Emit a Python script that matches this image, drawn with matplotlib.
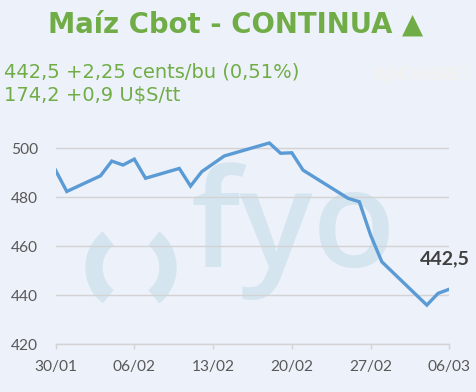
import numpy as np
import matplotlib
matplotlib.use("Agg")
import matplotlib.pyplot as plt
import matplotlib.dates as mdates
from matplotlib.patches import Arc

# data
fechas = ["2023-01-30", "2023-01-31", "2023-02-03", "2023-02-04", "2023-02-05",
          "2023-02-06", "2023-02-07", "2023-02-10", "2023-02-11", "2023-02-12",
          "2023-02-14", "2023-02-18", "2023-02-19", "2023-02-20", "2023-02-21",
          "2023-02-25", "2023-02-26", "2023-02-27", "2023-02-28", "2023-03-04",
          "2023-03-05", "2023-03-06"]
precios = [491.1, 482.4, 488.8, 494.8, 493.2, 495.6, 487.8, 491.8, 484.6, 490.5,
           496.9, 502.2, 498.0, 498.2, 491.1, 479.6, 478.2, 464.6, 453.7, 436.0,
           440.8, 442.5]
ticks_x = ["2023-01-30", "2023-02-06", "2023-02-13", "2023-02-20", "2023-02-27", "2023-03-06"]
ticks_y = [420, 440, 460, 480, 500]

titulo = "Maíz Cbot - CONTINUA ▲"
linea1 = "442,5 +2,25 cents/bu (0,51%)"
linea2 = "174,2 +0,9 U$S/tt"
etiqueta = "442,5"

bg_color = "#EDF1F9"
verde = "#70AD47"
azul = "#5B9BD5"
marca = "#D5E5F0"

fechas = np.array(fechas, dtype="datetime64[D]")
ticks_x = np.array(ticks_x, dtype="datetime64[D]")

fig = plt.figure(figsize=(4.77, 3.92), dpi=100, facecolor=bg_color)

# background layer in pixel coords: texts and watermark
bg = fig.add_axes([0, 0, 1, 1], zorder=0)
bg.set_xlim(0, 477)
bg.set_ylim(392, 0)
bg.axis("off")

bg.text(235.5, 33, titulo, ha="center", va="baseline", color=verde,
        fontsize=19.8, fontweight="bold", family="DejaVu Sans")
bg.text(4, 77, linea1, ha="left", va="baseline", color=verde,
        fontsize=14, family="DejaVu Sans")
bg.text(4, 101, linea2, ha="left", va="baseline", color=verde,
        fontsize=14, family="DejaVu Sans")
bg.text(470, 80, "#¿NOMBRE?", ha="right", va="baseline", color="#F3F1EC",
        fontsize=12, family="Lato")

# watermark logo
bg.text(191, 267, "fyo", ha="left", va="baseline", color=marca,
        fontsize=98, fontweight="semibold", family="Open Sans")
bg.add_patch(Arc((131, 267.5), 74, 74, theta1=128, theta2=232,
                 color=marca, lw=12.5))
bg.add_patch(Arc((131, 267.5), 74, 74, theta1=-52, theta2=52,
                 color=marca, lw=12.5))

ax = fig.add_axes([0.1164, 0.1217, 0.942 - 0.1164, 0.684 - 0.1217], zorder=1)
ax.set_facecolor("none")

ax.plot(fechas.astype("O"), precios, color=azul, lw=2.4, solid_joinstyle="miter", zorder=3)

ax.set_xlim(ticks_x[0].astype("O"), ticks_x[-1].astype("O"))
ax.set_ylim(420, 510)
ax.set_xticks(ticks_x.astype("O"))
ax.xaxis.set_major_formatter(mdates.DateFormatter("%d/%m"))
ax.set_yticks(ticks_y)

ax.grid(axis="y", color="#D3D3D3", lw=1)
ax.set_axisbelow(True)
for s in ["top", "right", "left"]:
    ax.spines[s].set_visible(False)
ax.spines["bottom"].set_color("#D3D3D3")
ax.spines["bottom"].set_linewidth(1)

ax.tick_params(axis="x", length=3.6, width=1, color="#D3D3D3", pad=7.5,
               labelsize=11.2, labelcolor="#595959")
ax.tick_params(axis="y", length=0, pad=12.6, labelsize=11.2, labelcolor="#595959")
for lab in ax.get_xticklabels() + ax.get_yticklabels():
    lab.set_family("Lato")

ax.annotate(etiqueta, (fechas[-1].astype("O"), precios[-1]), xytext=(15, 22),
            textcoords="offset points", ha="right", va="center",
            fontsize=14, fontweight="bold", color="#404040", family="Lato")

fig.savefig("out.png", dpi=100, facecolor=bg_color)
